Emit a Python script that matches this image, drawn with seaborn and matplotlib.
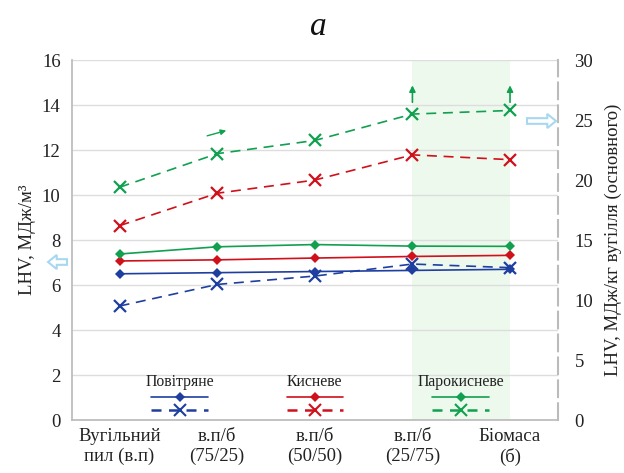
import matplotlib
matplotlib.use("Agg")
import matplotlib.pyplot as plt
import seaborn as sns
import pandas as pd
from matplotlib.lines import Line2D
from matplotlib.patches import FancyArrow

sns.set_theme(style="white")
plt.rcParams['font.family'] = ['Liberation Serif', 'DejaVu Serif']

categories = ["Вугільний\nпил (в.п)", "в.п/б\n(75/25)", "в.п/б\n(50/50)", "в.п/б\n(25/75)", "Біомаса\n(б)"]
series_names = ["Повітряне", "Кисневе", "Парокисневе"]
colors = ["#1F3FA0", "#D0101A", "#10A050"]

# LHV, MJ/m3 (left axis, solid)
lhv_m3_air = [6.5, 6.55, 6.6, 6.65, 6.7]
lhv_m3_oxy = [7.07, 7.12, 7.2, 7.27, 7.32]
lhv_m3_steam = [7.38, 7.7, 7.8, 7.73, 7.72]

# LHV, MJ/kg coal (right axis, dashed)
lhv_kg_air = [9.5, 11.3, 12.0, 13.0, 12.7]
lhv_kg_oxy = [16.2, 18.9, 20.0, 22.1, 21.7]
lhv_kg_steam = [19.4, 22.2, 23.3, 25.5, 25.8]

left_ticks = [0, 2, 4, 6, 8, 10, 12, 14, 16]
right_ticks = [0, 5, 10, 15, 20, 25, 30]

x = list(range(len(categories)))
solid = [lhv_m3_air, lhv_m3_oxy, lhv_m3_steam]
dashed = [lhv_kg_air, lhv_kg_oxy, lhv_kg_steam]

fig = plt.figure(figsize=(6.24, 4.73), dpi=100)
ax = fig.add_axes([0.115, 0.112, 0.779, 0.761])
ax2 = ax.twinx()

ax.axvspan(3.0, 4.0, ymin=0, ymax=1, color="#EEF9EE", zorder=0, lw=0)

for vals, c in zip(solid, colors):
    df = pd.DataFrame({"x": x, "y": vals})
    sns.lineplot(data=df, x="x", y="y", ax=ax, color=c, lw=1.2, marker="D",
                 markersize=5, markeredgewidth=0, markeredgecolor=c)
for vals, c in zip(dashed, colors):
    df = pd.DataFrame({"x": x, "y": vals})
    sns.lineplot(data=df, x="x", y="y", ax=ax2, color=c, lw=1.2, marker="x",
                 markersize=8.5, markeredgewidth=1.6, markeredgecolor=c, markerfacecolor=c,
                 dashes=False, linestyle=(0, (6, 4)))

ax.set_xlim(-0.49, 4.49)
ax.set_ylim(0, 16)
ax2.set_ylim(0, 30)
ax.set_yticks(left_ticks)
ax2.set_yticks(right_ticks)
ax.set_xticks(x)
ax.set_xticklabels(categories, fontsize=13.5, color="#222222")
ax.tick_params(axis="y", labelsize=13.5, colors="#222222", length=0, pad=8)
ax2.tick_params(axis="y", labelsize=13.5, colors="#222222", length=0, pad=12)
ax.tick_params(axis="x", length=0, pad=6)
ax.grid(axis="y", color="#DDDDDD", lw=1)
ax.set_axisbelow(True)
ax.set_xlabel("")
ax2.set_xlabel("")
ax.set_ylabel("LHV, МДж/м³", fontsize=13.5, color="#222222", labelpad=4)
ax2.set_ylabel("LHV, МДж/кг вугілля (основного)", fontsize=13.5, color="#222222", labelpad=8)

for a in (ax, ax2):
    for s in a.spines.values():
        s.set_visible(False)
ax.spines["left"].set_visible(True)
ax.spines["left"].set_color("#BBBBBB")
ax.spines["bottom"].set_visible(True)
ax.spines["bottom"].set_color("#BBBBBB")
ax2.spines["right"].set_visible(True)
ax2.spines["right"].set_color("#BBBBBB")
ax2.spines["right"].set_linestyle((0, (8, 3)))
ax2.spines["right"].set_linewidth(1.5)

fig.text(0.51, 0.943, "а", fontsize=24, style="italic", ha="center", va="center", color="#111111")

# legend block
lx = [0.222, 0.5, 0.8]
hw = 0.058
for name, c, cx in zip(series_names, colors, lx):
    ax.text(cx, 0.105, name, transform=ax.transAxes, ha="center", va="center", fontsize=11.3, color="#222222")
    ax.add_line(Line2D([cx - hw, cx + hw], [0.064, 0.064], transform=ax.transAxes, color=c, lw=1.2,
                       clip_on=False))
    ax.add_line(Line2D([cx], [0.064], transform=ax.transAxes, color=c, marker="D", markersize=5,
                       markeredgewidth=0, clip_on=False))
    ax.add_line(Line2D([cx - hw, cx + hw], [0.028, 0.028], transform=ax.transAxes, color=c, lw=1.8,
                       linestyle=(0, (4, 3)), clip_on=False))
    ax.add_line(Line2D([cx], [0.028], transform=ax.transAxes, color=c, marker="x", markersize=8,
                       markeredgewidth=1.5, clip_on=False))

# arrows
for xi in (3, 4):
    ax.annotate("", xy=(xi, 15.0), xytext=(xi, 14.0),
                arrowprops=dict(arrowstyle="-|>", color="#10A050", lw=1.2, mutation_scale=9))
ax.annotate("", xy=(1.12, 12.9), xytext=(0.87, 12.6),
            arrowprops=dict(arrowstyle="-|>", color="#10A050", lw=1.0, mutation_scale=8))

# hollow arrows
fig.patches.append(FancyArrow(67 / 624, 1 - 262 / 473, -19 / 624, 0, width=0.012, head_width=0.03,
                              head_length=0.014, transform=fig.transFigure, fill=False,
                              edgecolor="#A8D8F0", lw=1.5, length_includes_head=True))
fig.patches.append(FancyArrow(527 / 624, 1 - 121 / 473, 29 / 624, 0, width=0.012, head_width=0.03,
                              head_length=0.014, transform=fig.transFigure, fill=False,
                              edgecolor="#A8D8F0", lw=1.5, length_includes_head=True))

fig.savefig("out.png", dpi=100, facecolor="white")
